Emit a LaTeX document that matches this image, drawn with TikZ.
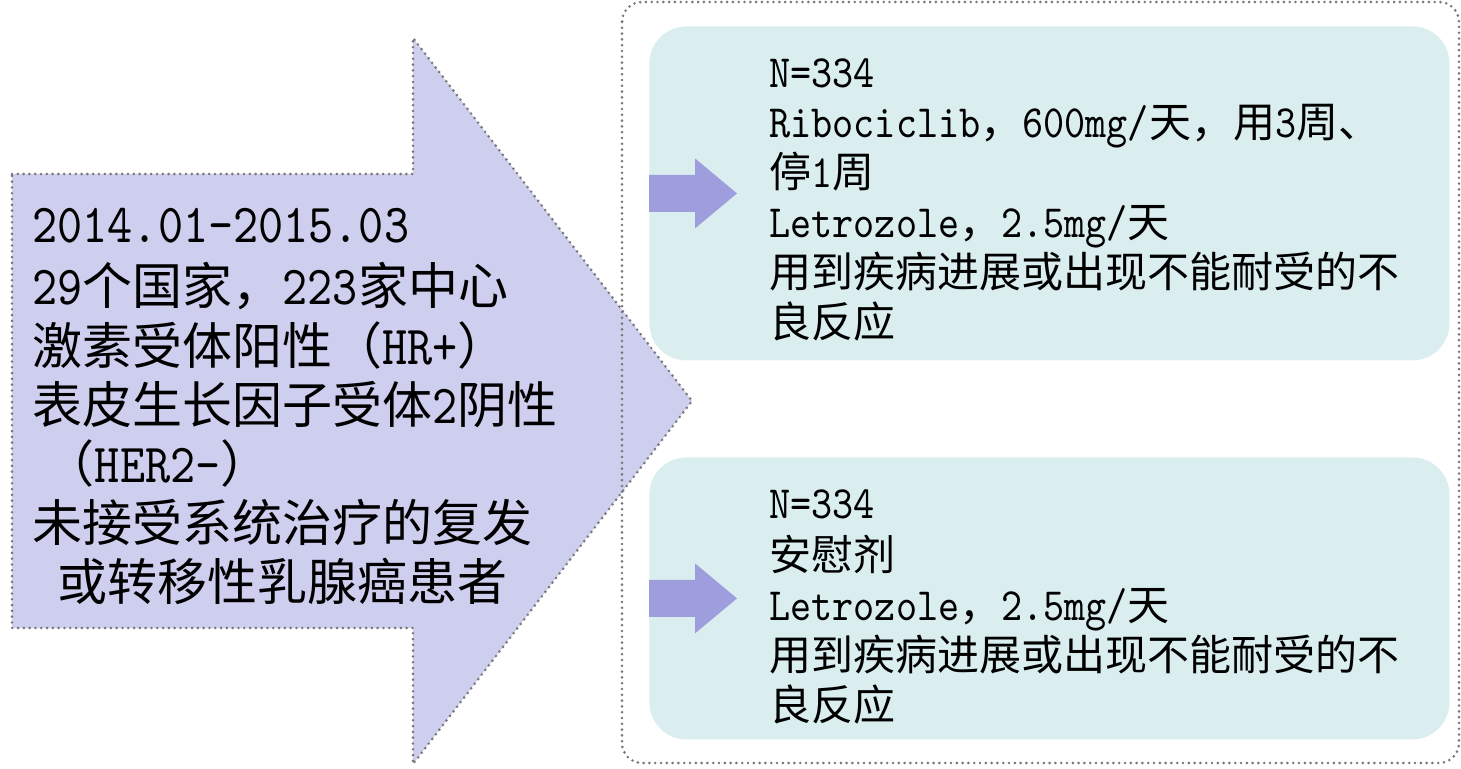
\documentclass[tikz,border=0pt]{standalone}
\definecolor{lilaclaro}{RGB}{206,206,238}
\definecolor{lilamedio}{RGB}{158,158,222}
\definecolor{cianclaro}{RGB}{218,237,239}
\definecolor{grispunto}{RGB}{120,120,120}
\usepackage{fontspec}
\setmainfont{Noto Sans CJK SC}
\newfontfamily\latmono{lmmono10-regular.otf}[Scale=1.1,FakeStretch=0.87]
\newcommand{\lat}[1]{{\latmono #1}}
\usetikzlibrary{positioning}

\begin{document}
\begin{tikzpicture}[
  x=0.5pt, y=-0.5pt,
  punteado/.style={
    draw=grispunto, line width=1.45pt,
    line cap=round, dash pattern=on 0pt off 2.9pt},
  brazo/.style={
    rectangle, rounded corners=18.5pt,
    fill=cianclaro, inner sep=0pt,
    minimum width=400pt, anchor=north west},
  textoizq/.style={
    inner sep=0pt, align=left,
    font=\fontsize{25}{29.6}\selectfont},
  textoder/.style={
    inner sep=0pt, align=left,
    font=\fontsize{21}{25}\selectfont},
  flechita/.style={fill=lilamedio}
]
  \useasboundingbox (0,0) rectangle (1461,769);

  %% ── Flecha grande: población ──────────────────────────────
  \draw[punteado, fill=lilaclaro]
    (12,174) -- (413,174) -- (413,38) -- (692,401)
    -- (413,764) -- (413,628) -- (12,628) -- cycle;
  \node[textoizq, anchor=north west](pob) at (32,201){%
    \strut\lat{2014.01-2015.03}\\
    \lat{29}个国家，\lat{223}家中心\\
    激素受体阳性（\lat{HR+}）\\
    表皮生长因子受体\lat{2}阴性\\
    \hspace*{.25em}（\lat{HER2-}）\\
    未接受系统治疗的复发\\
    \hspace*{.5em}或转移性乳腺癌患者};

  %% ── Marco punteado ────────────────────────────────────────
  \draw[punteado, rounded corners=10pt] (622,2) rectangle (1459,763);

  %% ── Brazos del ensayo ─────────────────────────────────────
  \node[brazo, minimum height=167pt](brazoA) at (649,26){};
  \node[brazo, minimum height=141pt](brazoB) at (649,457){};

  \foreach \b in {brazoA,brazoB}
    \fill[flechita] (\b.west) ++(0,-18.5) -- ++(46,0) -- ++(0,-16.5)
      -- ++(42,35) -- ++(-42,35) -- ++(0,-16.5) -- ++(-46,0) -- cycle;

  \node[textoder, below right=13pt and 60pt of brazoA.north west](ribo){%
    \strut\lat{N=334}\\
    \lat{Ribociclib}，\lat{600mg/}天，用\lat{3}周、\\
    停\lat{1}周\\
    \lat{Letrozole}，\lat{2.5mg/}天\\
    用到疾病进展或出现不能耐受的不\\
    良反应};

  \node[textoder, below right=13pt and 60pt of brazoB.north west](placebo){%
    \strut\lat{N=334}\\
    安慰剂\\
    \lat{Letrozole}，\lat{2.5mg/}天\\
    用到疾病进展或出现不能耐受的不\\
    良反应};

\end{tikzpicture}
\end{document}
